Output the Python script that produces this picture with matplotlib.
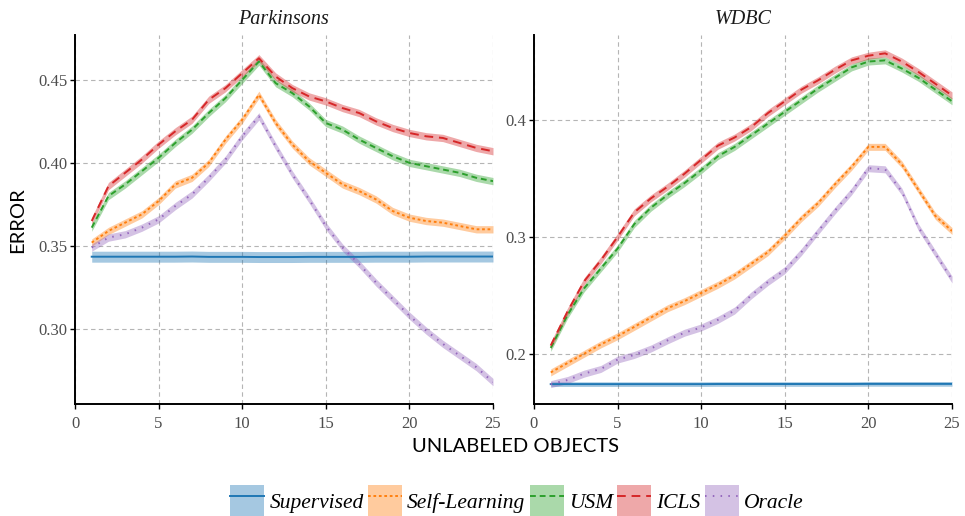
import matplotlib
matplotlib.use('Agg')
import matplotlib.pyplot as plt
import matplotlib.ticker as mticker
from matplotlib.lines import Line2D
from matplotlib.patches import Patch

# ── Data ──────────────────────────────────────────────────────────────────────
unlabeled = list(range(1, 26))

park_supervised = [0.3435, 0.3435, 0.3435, 0.3435, 0.3435, 0.3435, 0.3436, 0.3434, 0.3434, 0.3434,
                   0.3433, 0.3433, 0.3433, 0.3434, 0.3434, 0.3434, 0.3434, 0.3435, 0.3435, 0.3435,
                   0.3436, 0.3436, 0.3436, 0.3436, 0.3436]
park_self = [0.352, 0.359, 0.364, 0.369, 0.377, 0.387, 0.391, 0.400, 0.414, 0.426,
             0.441, 0.424, 0.411, 0.401, 0.394, 0.387, 0.383, 0.378, 0.371, 0.367,
             0.365, 0.364, 0.362, 0.360, 0.360]
park_usm = [0.361, 0.380, 0.387, 0.395, 0.403, 0.412, 0.420, 0.430, 0.439, 0.450,
            0.461, 0.448, 0.442, 0.434, 0.424, 0.420, 0.414, 0.409, 0.404, 0.400,
            0.398, 0.396, 0.394, 0.391, 0.389]
park_icls = [0.365, 0.386, 0.394, 0.402, 0.411, 0.419, 0.426, 0.438, 0.445, 0.454,
             0.463, 0.452, 0.445, 0.440, 0.437, 0.433, 0.430, 0.425, 0.421, 0.418,
             0.416, 0.415, 0.412, 0.409, 0.407]
park_oracle = [0.349, 0.355, 0.357, 0.361, 0.366, 0.374, 0.381, 0.391, 0.402, 0.416,
               0.428, 0.410, 0.393, 0.378, 0.362, 0.349, 0.339, 0.328, 0.318, 0.308,
               0.299, 0.291, 0.284, 0.277, 0.268]
park_band = [0.0033, 0.0022, 0.0022, 0.0022, 0.0022]

wdbc_supervised = [0.1740, 0.1740, 0.1740, 0.1740, 0.1740, 0.1740, 0.1740, 0.1740, 0.1740, 0.1740,
                   0.1741, 0.1741, 0.1741, 0.1741, 0.1741, 0.1741, 0.1741, 0.1741, 0.1741, 0.1742,
                   0.1742, 0.1742, 0.1742, 0.1742, 0.1742]
wdbc_self = [0.184, 0.192, 0.200, 0.208, 0.215, 0.223, 0.231, 0.239, 0.245, 0.252,
             0.259, 0.267, 0.277, 0.287, 0.301, 0.316, 0.329, 0.345, 0.360, 0.377,
             0.377, 0.362, 0.340, 0.318, 0.305]
wdbc_usm = [0.205, 0.233, 0.256, 0.273, 0.290, 0.311, 0.325, 0.336, 0.346, 0.357,
            0.369, 0.377, 0.387, 0.397, 0.407, 0.417, 0.427, 0.436, 0.445, 0.450,
            0.451, 0.444, 0.436, 0.426, 0.416]
wdbc_icls = [0.207, 0.236, 0.262, 0.280, 0.300, 0.321, 0.333, 0.343, 0.354, 0.366,
             0.378, 0.385, 0.394, 0.406, 0.416, 0.426, 0.434, 0.443, 0.451, 0.455,
             0.457, 0.450, 0.441, 0.431, 0.421]
wdbc_oracle = [0.174, 0.1775, 0.183, 0.187, 0.195, 0.199, 0.2045, 0.2115, 0.218, 0.2225,
               0.229, 0.237, 0.250, 0.2615, 0.2715, 0.2872, 0.305, 0.3225, 0.339, 0.3587,
               0.3578, 0.3387, 0.308, 0.2857, 0.2635]
wdbc_band = [0.002, 0.003, 0.003, 0.003, 0.003]

methods = ['Supervised', 'Self-Learning', 'USM', 'ICLS', 'Oracle']
x_ticks = [0, 5, 10, 15, 20, 25]
park_yticks = [0.30, 0.35, 0.40, 0.45]
wdbc_yticks = [0.2, 0.3, 0.4]

# ── Style ─────────────────────────────────────────────────────────────────────
COLORS = ['#1f77b4', '#ff7f0e', '#2ca02c', '#d62728', '#9467bd']
STYLES = ['-', (0, (1.4, 1.4)), (0, (3.0, 2.0)), (0, (4.5, 3.0)), (0, (0.8, 3.2))]
SERIF = 'Liberation Serif'
SANS = 'Lato'
TICK_COLOR = '#4d4d4d'
GRID_COLOR = '#b5b5b5'

fig = plt.figure(figsize=(9.65, 5.16), dpi=100)

panels = [
    ('Parkinsons', [park_supervised, park_self, park_usm, park_icls, park_oracle], park_band,
     (0.2548, 0.477), park_yticks, '%.2f', 75),
    ('WDBC', [wdbc_supervised, wdbc_self, wdbc_usm, wdbc_icls, wdbc_oracle], wdbc_band,
     (0.157, 0.4727), wdbc_yticks, '%.1f', 534),
]

for title, series, band, ylim, yticks, fmt, left_px in panels:
    ax = fig.add_axes([left_px / 965, 1 - 404 / 516, 418 / 965, 369 / 516])
    for vals, half, color, ls in zip(series, band, COLORS, STYLES):
        lo = [v - half for v in vals]
        hi = [v + half for v in vals]
        ax.fill_between(unlabeled, lo, hi, color=color, alpha=0.4, linewidth=0, zorder=2)
        ax.plot(unlabeled, vals, color=color, linestyle=ls, linewidth=1.4, zorder=3)

    ax.set_xlim(0, 25)
    ax.set_ylim(*ylim)
    ax.set_xticks(x_ticks)
    ax.set_yticks(yticks)
    ax.yaxis.set_major_formatter(mticker.FormatStrFormatter(fmt))
    ax.grid(True, color=GRID_COLOR, linewidth=0.8, linestyle=(0, (4, 3)), zorder=0)
    ax.set_axisbelow(True)

    for side in ('top', 'right'):
        ax.spines[side].set_visible(False)
    for side in ('left', 'bottom'):
        ax.spines[side].set_linewidth(1.4)
        ax.spines[side].set_color('black')

    ax.tick_params(axis='both', length=3.5, width=1, color='black', labelcolor=TICK_COLOR,
                   labelsize=12, pad=2)
    ax.tick_params(axis='x', pad=5)
    for lab in ax.get_xticklabels() + ax.get_yticklabels():
        lab.set_fontfamily(SERIF)
    ax.set_title(title, fontfamily=SERIF, fontstyle='italic', fontsize=14.5, pad=8,
                 color='#1a1a1a')

fig.text(18 / 965, 1 - 220 / 516, 'ERROR', rotation=90, ha='center', va='center',
         fontfamily=SANS, fontsize=14.5, color='black')
fig.text(516 / 965, 1 - 446 / 516, 'UNLABELED OBJECTS', ha='center', va='center',
         fontfamily=SANS, fontsize=14.5, color='black')

# ── Legend ────────────────────────────────────────────────────────────────────
handles = []
for color, ls in zip(COLORS, STYLES):
    patch = Patch(facecolor=color, alpha=0.4, edgecolor='none')
    line = Line2D([0], [0], color=color, linestyle=ls, linewidth=1.4)
    handles.append((patch, line))

leg = fig.legend(handles, methods, loc='center', bbox_to_anchor=(517 / 965, 1 - 501 / 516),
                 ncol=5, frameon=False, handlelength=1.58, handleheight=1.95,
                 handletextpad=0.23, columnspacing=0.21, borderpad=0,
                 prop={'family': SERIF, 'style': 'italic', 'size': 15.5})

fig.savefig('out.png', dpi=100)
